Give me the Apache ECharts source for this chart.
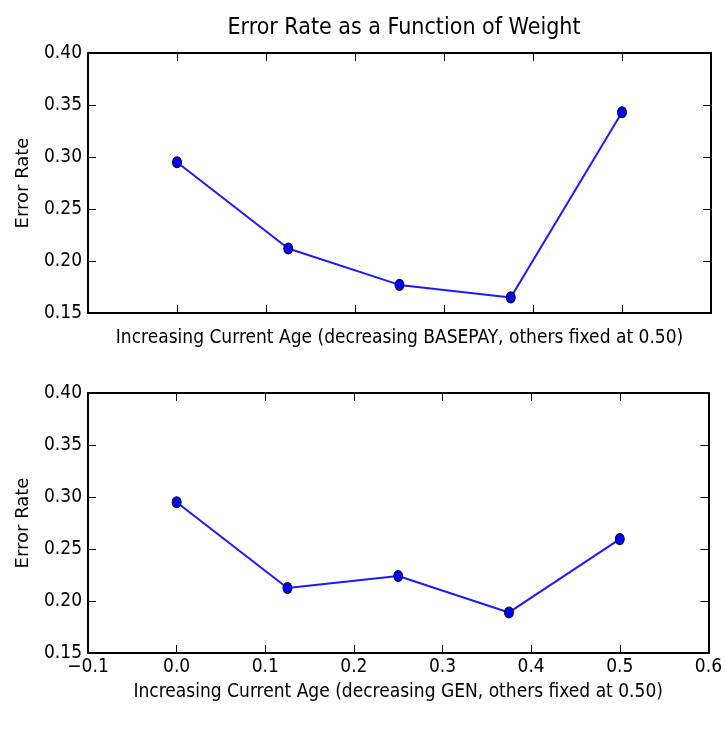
<!DOCTYPE html>
<html>
<head>
<meta charset="utf-8">
<script src="https://cdn.jsdelivr.net/npm/echarts@6/dist/echarts.min.js"></script>
<style>
  html, body { margin: 0; padding: 0; background: #fff; }
  #main { width: 725px; height: 734px; }
</style>
</head>
<body>
<div id="main"></div>
<script>
// weights on the x axis (same for both panels)
var weights = [0.0, 0.125, 0.25, 0.375, 0.5];
// error rates
var basepayErr = [0.295, 0.212, 0.177, 0.165, 0.343];
var genErr = [0.295, 0.2125, 0.224, 0.189, 0.2595];
var xTicks = [-0.1, 0.0, 0.1, 0.2, 0.3, 0.4, 0.5, 0.6];
var yTicks = [0.15, 0.20, 0.25, 0.30, 0.35, 0.40];

var narrow = '"DejaVu Sans Condensed", "Liberation Sans Narrow", "DejaVu Sans", sans-serif';
var myChart = echarts.init(document.getElementById('main'));

function pairs(ys) {
    return weights.map(function (w, i) { return [w, ys[i]]; });
}
function xFmt(v) {
    return (v < 0 ? '\u2212' : '') + Math.abs(v).toFixed(1);
}

var tickStyle = { show: true, inside: true, length: 8, lineStyle: { color: '#000', width: 1 } };
var frameLine = { show: true, onZero: false, lineStyle: { color: '#000', width: 2 } };

function xAxisFor(grid, pos, showLabels, name) {
    return {
        type: 'value',
        gridIndex: grid,
        position: pos,
        min: xTicks[0],
        max: xTicks[xTicks.length - 1],
        interval: 0.1,
        axisLine: frameLine,
        axisTick: tickStyle,
        splitLine: { show: false },
        axisLabel: {
            show: showLabels,
            formatter: xFmt,
            fontFamily: narrow,
            fontSize: 19,
            color: '#000',
            margin: 5
        },
        name: name || '',
        nameLocation: 'middle',
        nameGap: name ? (showLabels ? 30 : 16) : 0,
        nameTextStyle: { fontFamily: narrow, fontSize: 19, color: '#000', verticalAlign: 'top' }
    };
}

function yAxisFor(grid, pos, showLabels, name) {
    return {
        type: 'value',
        gridIndex: grid,
        position: pos,
        min: yTicks[0],
        max: yTicks[yTicks.length - 1],
        interval: 0.05,
        axisLine: frameLine,
        axisTick: tickStyle,
        splitLine: { show: false },
        axisLabel: {
            show: showLabels,
            formatter: function (v) { return v.toFixed(2); },
            fontFamily: narrow,
            fontSize: 19,
            color: '#000',
            margin: 6
        },
        name: name || '',
        nameLocation: 'middle',
        nameGap: 56,
        nameRotate: 90,
        nameTextStyle: { fontFamily: '"DejaVu Sans", sans-serif', fontSize: 18, color: '#000' }
    };
}

var lineSeries = function (xi, yi, ys) {
    return {
        type: 'line',
        xAxisIndex: xi,
        yAxisIndex: yi,
        data: pairs(ys),
        symbol: 'circle',
        symbolSize: [9, 11],
        showAllSymbol: true,
        lineStyle: { color: '#1a1aff', width: 2 },
        itemStyle: { color: '#0000ff', borderColor: '#000', borderWidth: 1 },
        z: 5
    };
};

var option = {
    animation: false,
    backgroundColor: '#fff',
    title: {
        text: 'Error Rate as a Function of Weight',
        left: 399,
        top: 12,
        textAlign: 'center',
        textStyle: { fontFamily: narrow, fontSize: 23, fontWeight: 'normal', color: '#000' }
    },
    grid: [
        { left: 88, right: 14, top: 53, height: 260 },
        { left: 88, right: 14, top: 393, height: 260 }
    ],
    xAxis: [
        xAxisFor(0, 'bottom', false, 'Increasing Current Age (decreasing BASEPAY, others fixed at 0.50)'),
        xAxisFor(0, 'top', false),
        xAxisFor(1, 'bottom', true, 'Increasing Current Age (decreasing GEN, others fixed at 0.50)'),
        xAxisFor(1, 'top', false)
    ],
    yAxis: [
        yAxisFor(0, 'left', true, 'Error Rate'),
        yAxisFor(0, 'right', false),
        yAxisFor(1, 'left', true, 'Error Rate'),
        yAxisFor(1, 'right', false)
    ],
    series: [
        lineSeries(0, 0, basepayErr),
        lineSeries(2, 2, genErr)
    ]
};
myChart.setOption(option);
</script>
</body>
</html>
